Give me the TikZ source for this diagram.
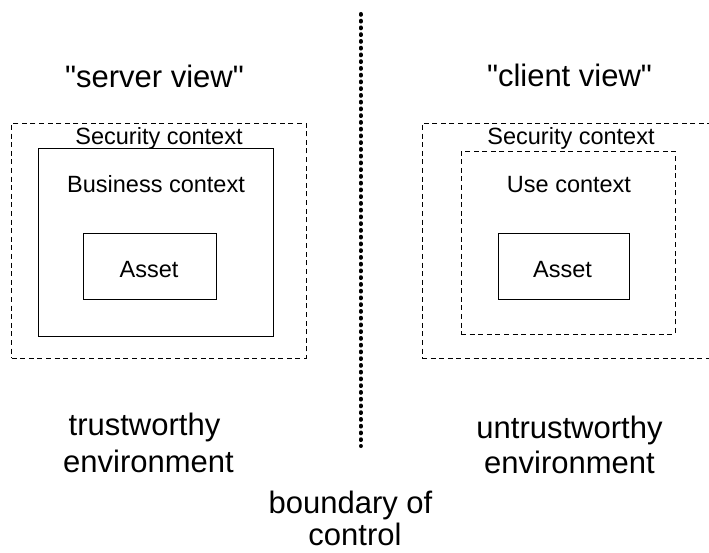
\documentclass[tikz,border=0pt]{standalone}
\usepackage{fontspec}
\setmainfont{Liberation Sans}[Ligatures=TeXOff]
\begin{document}
\begin{tikzpicture}[x=1pt,y=-1pt,
  big/.style={anchor=base,inner sep=0pt,font=\fontsize{31}{37}\selectfont},
  small/.style={anchor=base,inner sep=0pt,font=\fontsize{23.5}{28}\selectfont},
  frame/.style={draw,line width=0.9pt,inner sep=0pt,outer sep=0pt},
  dashframe/.style={frame,dash pattern=on 5pt off 3.6pt},
  divider/.style={line width=4pt,line cap=round,dash pattern=on 0.8pt off 5.95pt}]
\path[use as bounding box,clip] (0,0) rectangle (709,553);

% headings
\node[big] (sv) at (154.5,88) {"server view"};
\node[big] (cv) at (569.5,87) {"client view"};

% server side: nested contexts
\node[dashframe,minimum width=294.3pt,minimum height=235pt] (lsec) at (158.8,240.5) {};
\node[frame,minimum width=235pt,minimum height=188pt] (lbiz) at (155.5,242) {};
\node[frame,minimum width=133pt,minimum height=66pt] (lasset) at (149.5,266) {};
\node[small] (lsect) at (159,145) {Security context};
\node[small] (lbizt) at (156,193) {Business context};
\node[small] (lasst) at (149,277) {Asset};

% client side: nested contexts
\node[dashframe,minimum width=290pt,minimum height=235pt] (rsec) at (567,240.5) {};
\node[dashframe,minimum width=214pt,minimum height=183pt] (ruse) at (568,242.5) {};
\node[frame,minimum width=131pt,minimum height=66pt] (rasset) at (563.5,266) {};
\node[small] (rsect) at (571,145) {Security context};
\node[small] (ruset) at (569,193) {Use context};
\node[small] (rasst) at (562.5,277) {Asset};

% boundary line
\coordinate (btop) at (360.7,14);
\coordinate (bbot) at (360.7,446);
\draw[divider] (btop) -- (bbot);

% environment labels
\node[big] (tw1) at (144.5,435) {trustworthy};
\node[big] (tw2) at (148.5,472) {environment};
\node[big] (uw1) at (569.5,438) {untrustworthy};
\node[big] (uw2) at (569.5,473) {environment};
\node[big] (bc1) at (350.5,513) {boundary of};
\node[big] (bc2) at (355,545) {control};
\end{tikzpicture}
\end{document}
